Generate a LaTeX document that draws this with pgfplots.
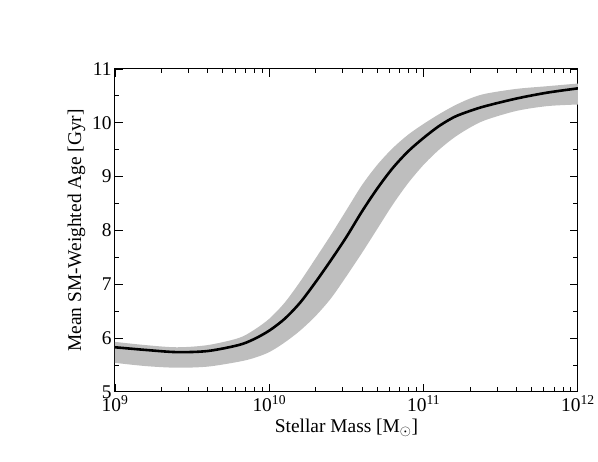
\documentclass[border=0pt]{standalone}
\usepackage{fontspec}
\setmainfont{Liberation Serif}
\usepackage{pgfplots}
\pgfplotsset{compat=1.18}
\usepackage{pgfplotstable}
\usepgfplotslibrary{fillbetween}
\definecolor{bandgray}{RGB}{190,190,190}

% stellar mass, mean age, lower and upper edge of the band
\pgfplotstableread{
x        mean   lo     hi
1e9      5.83   5.54   5.93
1.585e9  5.78   5.48   5.87
2.512e9  5.74   5.45   5.83
3.981e9  5.76   5.47   5.87
6.310e9  5.87   5.56   6.00
7.943e9  5.98   5.63   6.15
1e10     6.14   5.74   6.36
1.259e10 6.36   5.92   6.66
1.585e10 6.66   6.14   7.05
1.995e10 7.04   6.41   7.48
2.512e10 7.45   6.74   7.92
3.162e10 7.88   7.15   8.38
3.981e10 8.35   7.58   8.84
5.012e10 8.78   8.03   9.22
6.310e10 9.16   8.48   9.53
7.943e10 9.47   8.88   9.78
1e11     9.72   9.22   9.98
1.259e11 9.94   9.50   10.16
1.585e11 10.11  9.73   10.32
1.995e11 10.22  9.91   10.45
2.512e11 10.31  10.05  10.54
3.981e11 10.45  10.22  10.63
6.310e11 10.56  10.31  10.68
1e12     10.64  10.34  10.73
}\agedata

\begin{document}
\begin{tikzpicture}
\begin{axis}[
  at={(0,0)}, anchor=south west,
  scale only axis, width=463bp, height=323bp,
  xmode=log, xmin=1e9, xmax=1e12,
  ymin=5, ymax=11,
  xtick={1e9,1e10,1e11,1e12},
  xticklabels={10\textsuperscript{9},10\textsuperscript{10},10\textsuperscript{11},10\textsuperscript{12}},
  ytick={5,6,...,11},
  minor y tick num=1,
  tick align=inside,
  major tick length=8bp, minor tick length=4.5bp,
  axis line style={line width=1pt},
  every tick/.style={line width=0.9pt, black},
  font=\fontsize{19.5}{23}\selectfont,
  /pgf/number format/assume math mode=true,
  xlabel={Stellar Mass [M$_\odot$]},
  ylabel={Mean SM-Weighted Age [Gyr]},
]
\addplot[name path=up, draw=none, smooth] table[x=x, y=hi] {\agedata};
\addplot[name path=lo, draw=none, smooth] table[x=x, y=lo] {\agedata};
\addplot[bandgray, draw=none] fill between[of=up and lo];
\addplot[black, line width=2.6bp, smooth] table[x=x, y=mean] {\agedata};
\end{axis}
\path (-115bp,-70bp) rectangle (483bp,392bp);
\end{tikzpicture}
\end{document}
